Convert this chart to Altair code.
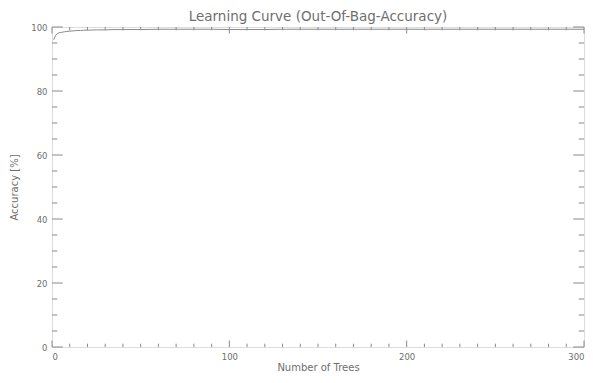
import altair as alt
import pandas as pd

# ---- data ----
trees = [1, 2, 3, 4, 5, 6, 7, 8, 10, 12, 14, 16, 18, 20, 25, 30, 35, 40, 50, 60,
         70, 80, 90, 100, 110, 120, 130, 140, 150, 160, 170, 180, 190, 200, 210,
         220, 230, 240, 250, 260, 270, 280, 290, 300]
accuracy = [96.0, 97.4, 97.9, 98.2, 98.3, 98.4, 98.5, 98.6, 98.7, 98.8, 98.9, 98.9,
            99.0, 99.0, 99.1, 99.1, 99.2, 99.2, 99.2, 99.3, 99.3, 99.3, 99.3, 99.2,
            99.2, 99.2, 99.3, 99.3, 99.3, 99.3, 99.3, 99.3, 99.3, 99.3, 99.3, 99.3,
            99.3, 99.3, 99.3, 99.3, 99.3, 99.3, 99.3, 99.3]

x_major = [0, 100, 200, 300]
x_minor = [10, 20, 30, 40, 50, 60, 70, 80, 90, 110, 120, 130, 140, 150, 160, 170,
           180, 190, 210, 220, 230, 240, 250, 260, 270, 280, 290]
y_major = [0, 20, 40, 60, 80, 100]
y_minor = [5, 10, 15, 25, 30, 35, 45, 50, 55, 65, 70, 75, 85, 90, 95]

W, H = 532, 320
GRAY = "#8a8a8a"
TXT = "#6e6e6e"
FONT = "DejaVu Sans"

xs = alt.Scale(domain=[0, 300], nice=False, zero=False)
ys = alt.Scale(domain=[0, 100], nice=False, zero=False)

x_axis = alt.Axis(values=x_major, ticks=False, domain=False, grid=False,
                  labelPadding=5, labelFontSize=8.5, labelColor=TXT,
                  labelFont=FONT, titleFont=FONT, titleFontSize=10,
                  titleFontWeight="normal", titleColor=TXT, titlePadding=2)
y_axis = alt.Axis(values=y_major, ticks=False, domain=False, grid=False,
                  labelPadding=5, labelFontSize=8.5, labelColor=TXT,
                  labelFont=FONT, titleFont=FONT, titleFontSize=10,
                  titleFontWeight="normal", titleColor=TXT, titlePadding=11)
XT = "Number of Trees"
YT = "Accuracy [%]"

df = pd.DataFrame({"trees": trees, "acc": accuracy})

line = alt.Chart(df).mark_line(color=GRAY, strokeWidth=1).encode(
    x=alt.X("trees:Q", scale=xs, title=XT, axis=x_axis),
    y=alt.Y("acc:Q", scale=ys, title=YT, axis=y_axis),
)

def xticks(vals, length):
    d = pd.DataFrame({"v": vals})
    bottom = alt.Chart(d).mark_rule(color=GRAY, strokeWidth=1).encode(
        x=alt.X("v:Q", scale=xs, title=XT, axis=x_axis),
        y=alt.value(H), y2=alt.value(H - length))
    top = alt.Chart(d).mark_rule(color=GRAY, strokeWidth=1).encode(
        x=alt.X("v:Q", scale=xs, title=XT, axis=x_axis),
        y=alt.value(0), y2=alt.value(length))
    return [bottom, top]

def yticks(vals, length):
    d = pd.DataFrame({"v": vals})
    left = alt.Chart(d).mark_rule(color=GRAY, strokeWidth=1).encode(
        y=alt.Y("v:Q", scale=ys, title=YT, axis=y_axis),
        x=alt.value(0), x2=alt.value(length))
    right = alt.Chart(d).mark_rule(color=GRAY, strokeWidth=1).encode(
        y=alt.Y("v:Q", scale=ys, title=YT, axis=y_axis),
        x=alt.value(W), x2=alt.value(W - length))
    return [left, right]

layers = [line] + xticks(x_major, 6.5) + xticks(x_minor, 3.3) \
         + yticks(y_major, 10.8) + yticks(y_minor, 5.4)

chart = alt.layer(*layers).properties(
    width=W, height=H,
    title=alt.TitleParams("Learning Curve (Out-Of-Bag-Accuracy)", font=FONT,
                          fontSize=13.5, fontWeight="normal", color=TXT, offset=0),
    autosize=alt.AutoSizeParams(type="none"),
    padding={"left": 44, "top": 19, "right": 1, "bottom": 27},
).configure_view(stroke=GRAY, strokeWidth=1).configure(background="white")

chart.save("out.html", embed_options={"renderer": "svg", "actions": False})
